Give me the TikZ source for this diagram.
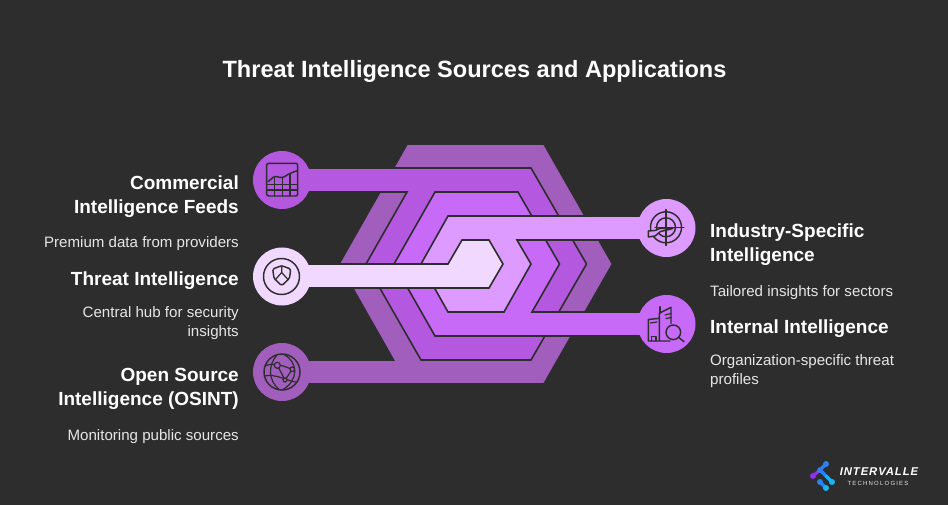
\documentclass[tikz,border=0pt]{standalone}
\usepackage{fontspec}
\setmainfont{Liberation Sans}
\newfontfamily\logofont[LetterSpace=8]{Liberation Sans}
\newfontfamily\logosub[LetterSpace=20]{Liberation Sans}
\definecolor{bgc}{HTML}{2D2D2D}
\definecolor{la}{HTML}{A25EBD}
\definecolor{lb}{HTML}{B558E0}
\definecolor{lc}{HTML}{C76AF8}
\definecolor{ld}{HTML}{DD9BFF}
\definecolor{le}{HTML}{F0D8FF}
\definecolor{subc}{HTML}{E6E6E6}
\definecolor{lgp}{HTML}{8C32EB}
\definecolor{lgb}{HTML}{2A80F5}
\definecolor{lgc}{HTML}{19B5F0}
\tikzset{
  layer/.style={fill=#1,draw=bgc,line width=1.6pt,line join=miter},
  hub/.style={circle,fill=#1,draw=none,minimum size=58pt,inner sep=0pt},
  icon/.style={draw=bgc,line width=1.45pt,line join=round,line cap=round},
  thin icon/.style={icon,line width=1.2pt},
  head/.style={text=white,font=\fontsize{19}{24}\selectfont\bfseries,inner sep=0pt},
  body/.style={text=subc,font=\fontsize{15.1}{19}\selectfont,inner sep=0pt},
  lefttxt/.style={anchor=east,align=right},
  righttxt/.style={anchor=west,align=left},
}
\begin{document}
\begin{tikzpicture}[x=1pt,y=-1pt]
\useasboundingbox (0,0) rectangle (948,505);
\fill[bgc] (0,0) rectangle (948,505);
% layers
\path[layer=la] (282,360) -- (393.5,360) -- (339,264) -- (407,144.2) -- (544,144.2) -- (612.5,264) -- (544,383.8) -- (282,383.8) -- cycle;
\path[layer=lb] (282,168) -- (531,168) -- (586.5,264) -- (531,360) -- (421,360) -- (366,264) -- (407,192) -- (282,192) -- cycle;
\path[layer=lc] (435,192) -- (518,192) -- (559.5,264) -- (532,312) -- (667,312) -- (667,336) -- (435,336) -- (394,264) -- cycle;
\path[layer=ld] (448,216) -- (667,216) -- (667,240) -- (517,240) -- (531,264) -- (504,312) -- (448,312) -- (421,264) -- cycle;
\path[layer=le] (282,264) -- (448,264) -- (462,240) -- (489,240) -- (503,264) -- (489,288) -- (282,288) -- cycle;
% hubs
\node[hub=lb] (feeds) at (282,180) {};
\node[hub=le] (threat) at (282,276.5) {};
\node[hub=la] (osint) at (282,372) {};
\node[hub=ld] (industry) at (666.5,228) {};
\node[hub=lc] (internal) at (666.5,324) {};
% icon: chart
\draw[icon,rounded corners=2pt] (266.7,163.3) rectangle (297.7,196);
\draw[icon,rounded corners=3pt] (268,181.7) -- (275,175.7) -- (281.7,178.3) -- (290,173.3) -- (297,170.7);
\draw[thin icon] (267,184.5) -- (297,184.5) (267,190) -- (297,190);
\draw[thin icon] (274.3,177) -- (274.3,196) (282.3,178) -- (282.3,196) (290,174) -- (290,196);
% icon: shield
\draw[icon] (281.5,276.5) circle[radius=18];
\draw[icon,rounded corners=1.5pt] (281.7,265.7) -- (272.7,269) -- (274,278.3) -- (281.7,285.7) -- (289.5,278.3) -- (290.7,269) -- cycle;
\draw[thin icon] (281.7,266) -- (281.7,272.5) (281.7,272.5) -- (275.5,279.5) (281.7,272.5) -- (288,279.5);
% icon: globe
\draw[icon] (282,372) circle[radius=18];
\draw[thin icon] (277,355) .. controls (268,365) and (268,380) .. (279,389.5);
\draw[thin icon] (284,354.5) .. controls (298,362) and (299,380) .. (283,389.5);
\draw[thin icon] (264.5,376) .. controls (275,373) and (290,382) .. (296,382);
\draw[thin icon] (265,366) .. controls (272,362) and (285,366) .. (292,369.5);
\draw[thin icon] (277.3,365.3) -- (285,380) -- (292.3,369.3);
\draw[thin icon,fill=la] (277.3,365.3) circle[radius=3];
\draw[thin icon,fill=la] (292.3,369.3) circle[radius=2.3];
\draw[thin icon,fill=la] (285,380) circle[radius=2];
% icon: target
\draw[icon] (666,227.3) circle[radius=15.5];
\draw[icon] (666,227.3) circle[radius=9.5];
\draw[icon] (666,209.5) -- (666,245.5) (655,227.3) -- (684,227.3);
\draw[icon,fill=ld] (648.3,231) -- (648.3,237) -- (655,236) -- (660.5,231.5) -- (673,228.5) -- (660,228.5) -- (655,230.5) -- cycle;
% icon: buildings
\draw[icon] (670,341) -- (648.3,341) -- (648.3,319.5) -- (659.3,318.3) -- (659.3,341);
\draw[icon] (659.3,318.3) -- (659.3,313.3) -- (671,307.3) -- (671,323.3);
\draw[icon] (660,306.7) -- (660,313);
\draw[thin icon] (650.5,323) -- (657,322) (665,315) -- (671,313.5) (666,318.5) -- (671,317.5);
\draw[thin icon] (651.7,341) -- (651.7,336.7) -- (656,336.7) -- (656,341);
\draw[icon] (673.3,332.3) circle[radius=7.3];
\draw[icon] (679,337.7) -- (684,341.7);
% texts
\node[head] (title) at (474.5,71.5) {\fontsize{23.55}{28}\selectfont Threat Intelligence Sources and Applications};
\node[head,lefttxt] (t1) at (239,197) {Commercial\\Intelligence Feeds};
\node[body,lefttxt] (b1) at (239,243.5) {Premium data from providers};
\node[head,lefttxt] (t2) at (239,281) {Threat Intelligence};
\node[body,lefttxt] (b2) at (239,323) {Central hub for security\\insights};
\node[head,lefttxt] (t3) at (239,389) {Open Source\\Intelligence (OSINT)};
\node[body,lefttxt] (b3) at (239,436.5) {Monitoring public sources};
\node[head,righttxt] (t4) at (710,245) {Industry-Specific\\Intelligence};
\node[body,righttxt] (b4) at (710,292.5) {Tailored insights for sectors};
\node[head,righttxt] (t5) at (710,329) {Internal Intelligence};
\node[body,righttxt] (b5) at (710,371) {Organization-specific threat\\profiles};
% logo
\begin{scope}[line width=3.2pt,line cap=round]
\draw[lgp] (813,476) -- (820,470);
\draw[lgb] (820,470) -- (826,464);
\draw[lgb] (820,470) -- (826,476);
\draw[lgc] (826,476) -- (832,482);
\draw[lgb] (820,482) -- (826,488);
\end{scope}
\fill[lgp] (813,476) circle[radius=3];
\fill[lgb] (826,464) circle[radius=3];
\fill[lgb] (820,470) circle[radius=2.8];
\fill[lgc] (832,482) circle[radius=3];
\fill[lgb] (820,482) circle[radius=3];
\fill[lgc] (826,488) circle[radius=3];
\node[text=white,inner sep=0pt,font=\logofont\fontsize{11.3}{14}\selectfont\bfseries\itshape] (logo1) at (879,472) {INTERVALLE};
\node[text=subc,inner sep=0pt,font=\logosub\fontsize{6}{8}\selectfont] (logo2) at (878,483) {TECHNOLOGIES};
\end{tikzpicture}
\end{document}
